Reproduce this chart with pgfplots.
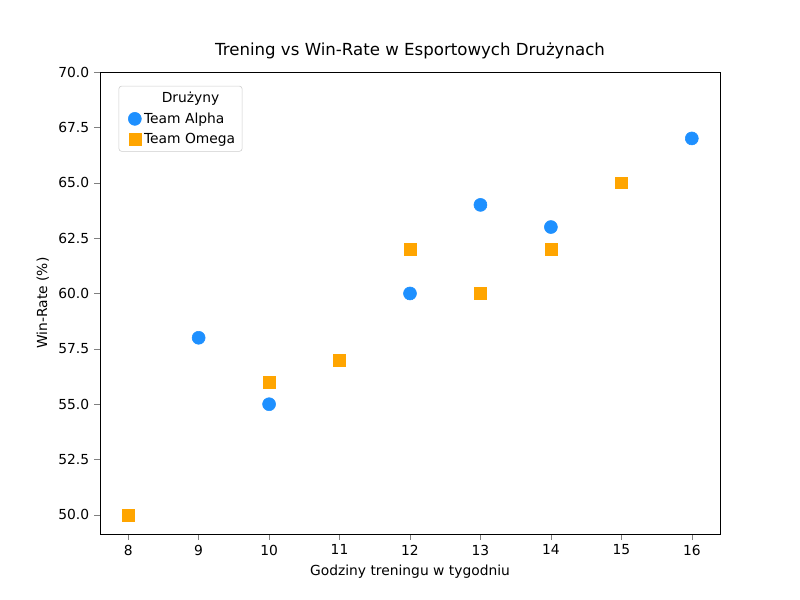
\documentclass[border=0pt]{standalone}
\usepackage{pgfplots}
\pgfplotsset{compat=1.18}
\usepackage{fontspec}
\setmainfont{DejaVu Sans}
\definecolor{cA}{HTML}{1E90FF}
\definecolor{cO}{HTML}{FFA500}
\begin{document}
\fontsize{10}{12}\selectfont
\begin{tikzpicture}
\path[use as bounding box] (-1in,-0.66in) rectangle (7in,5.34in);
\begin{axis}[at={(0,0)},anchor=south west,scale only axis,width=6.2in,height=4.62in,
 xmin=7.6,xmax=16.4,ymin=49.14,ymax=70,
 xtick={8,...,16},ytick={50,52.5,...,70},
 /pgf/number format/assume math mode=true,
 yticklabel style={/pgf/number format/.cd,fixed,fixed zerofill,precision=1},
 tick align=outside,tick pos=left,
 title style={font=\fontsize{12}{14}\selectfont},
 title={Trening vs Win-Rate w Esportowych Drużynach},
 xlabel={Godziny treningu w tygodniu},ylabel={Win-Rate (\%)},
 legend pos=north west,
 legend style={font=\fontsize{10}{12}\selectfont,draw=black!20,rounded corners=2pt,row sep=2pt},
 legend cell align=left]
\addlegendimage{empty legend}\addlegendentry{\hspace{0.45cm}Drużyny}
\addplot[only marks,mark=*,mark size=4.7pt,color=cA] coordinates {(9,58)(10,55)(12,60)(13,64)(14,63)(16,67)};
\addlegendentry{Team Alpha}
\addplot[only marks,mark=square*,mark size=4.3pt,color=cO] coordinates {(8,50)(10,56)(11,57)(12,62)(13,60)(14,62)(15,65)};
\addlegendentry{Team Omega}
\end{axis}
\end{tikzpicture}
\end{document}
